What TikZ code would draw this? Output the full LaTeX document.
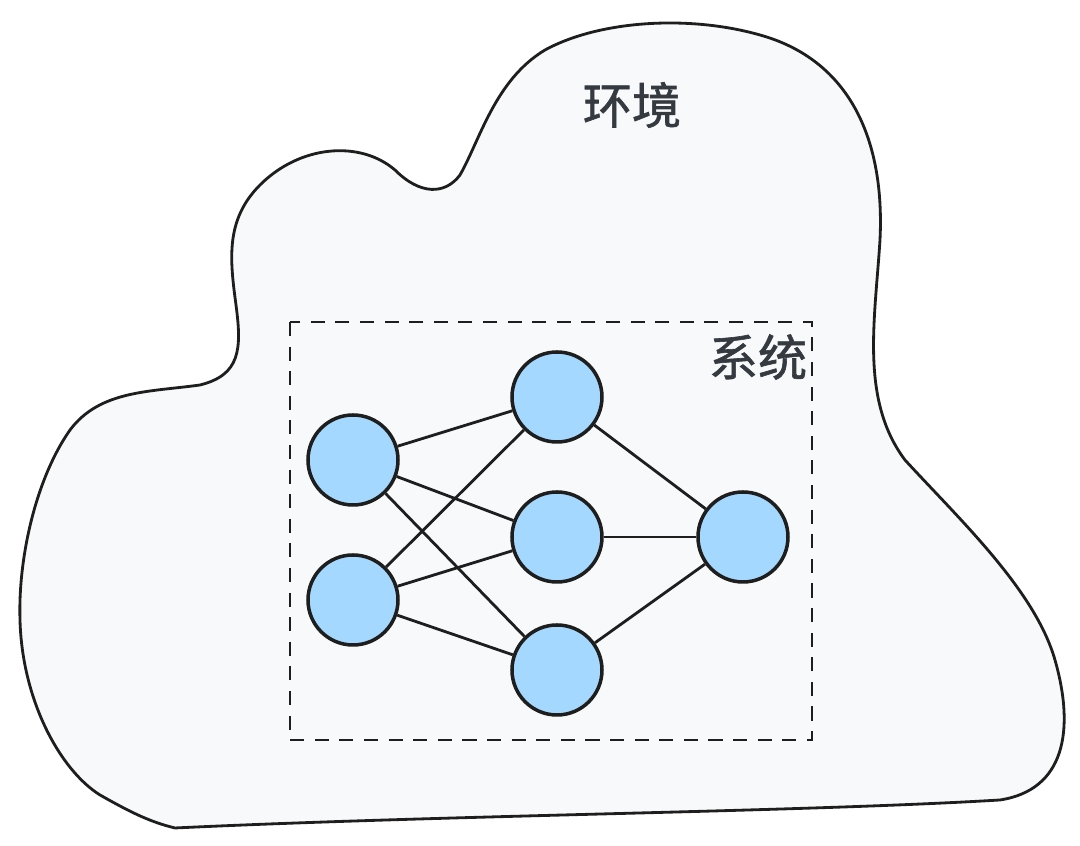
\documentclass[tikz,border=0pt]{standalone}
\usepackage{fontspec}
\usepackage{xcolor}
\usepackage{tikz}
\usetikzlibrary{calc,positioning}
\newfontfamily\cjk{Noto Sans CJK SC}[FakeBold=1.2]
\definecolor{envFill}{RGB}{248,249,250}
\definecolor{nodeBlue}{RGB}{165,216,255}
\definecolor{inkDark}{RGB}{30,30,30}
\definecolor{txtGray}{RGB}{52,58,64}
\tikzset{
  neuron/.style={circle, draw=inkDark, fill=nodeBlue, line width=1pt, minimum size=9mm, inner sep=0pt},
  wire/.style={draw=inkDark, line width=0.8pt},
  lbl/.style={text=txtGray, font=\cjk\fontsize{14}{16}\selectfont}
}

\begin{document}
\begin{tikzpicture}[x=0.1mm, y=-0.1mm]
\useasboundingbox (0,0) rectangle (1080,846);

% environment outline
\draw[inkDark, fill=envFill, line width=0.8pt]
(175,828) .. controls (450,815) and (800,812) .. (1000,800)
.. controls (1065,790) and (1075,730) .. (1055,660)
.. controls (1035,590) and (960,520) .. (905,460)
.. controls (860,400) and (875,320) .. (880,240)
.. controls (885,140) and (850,60) .. (760,35)
.. controls (690,15) and (600,20) .. (545,50)
.. controls (495,80) and (480,140) .. (460,175)
.. controls (445,195) and (420,195) .. (395,170)
.. controls (360,140) and (300,145) .. (260,185)
.. controls (225,220) and (230,260) .. (236,305)
.. controls (242,350) and (240,375) .. (200,385)
.. controls (150,392) and (100,390) .. (70,430)
.. controls (35,480) and (18,560) .. (20,620)
.. controls (22,700) and (60,770) .. (100,795)
.. controls (130,812) and (150,822) .. (175,828) -- cycle;

% system boundary
\draw[inkDark, line width=0.8pt, dash pattern=on 4pt off 3pt] (290,322) rectangle (812,740);

\node[lbl] (env) at (632,105) {环境};
\node[lbl] (sys) at (758,357) {系统};

% network
\node[neuron] (in1) at (353,460) {};
\node[neuron] (in2) at (353,600) {};
\node[neuron] (h1) at (557,397) {};
\node[neuron] (h2) at (557,537) {};
\node[neuron] (h3) at (557,670) {};
\node[neuron] (out) at (743,537) {};

\foreach \a in {in1,in2}
  \foreach \b in {h1,h2,h3}
    \draw[wire] (\a) -- (\b);
\foreach \b in {h1,h2,h3}
  \draw[wire] (\b) -- (out);
\end{tikzpicture}
\end{document}
